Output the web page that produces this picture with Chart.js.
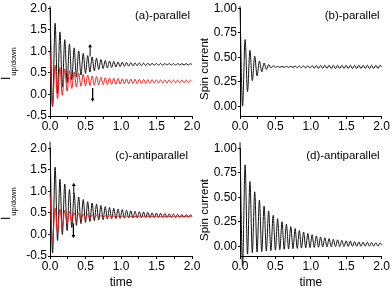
<!DOCTYPE html>
<html>
<head>
<meta charset="utf-8">
<script src="https://cdn.jsdelivr.net/npm/chart.js@4.4.1/dist/chart.umd.min.js"></script>
<style>
html, body { margin: 0; padding: 0; background: #fff; width: 390px; height: 290px; overflow: hidden; position: relative; }
canvas { position: absolute; }
</style>
</head>
<body>
<canvas id="pa" width="210" height="145" style="left:0;top:0"></canvas>
<canvas id="pb" width="195" height="145" style="left:195px;top:0"></canvas>
<canvas id="pc" width="210" height="150" style="left:0;top:140px"></canvas>
<canvas id="pd" width="195" height="150" style="left:195px;top:140px"></canvas>
<script>
// times of the successive maxima / minima
const tExt = [0.000, 0.036, 0.072, 0.106, 0.140, 0.174, 0.208, 0.241, 0.274, 0.307,
  0.340, 0.372, 0.404, 0.436, 0.468, 0.500, 0.531, 0.562, 0.593, 0.624,
  0.655, 0.686, 0.717, 0.748, 0.778, 0.808, 0.838, 0.868, 0.898, 0.928,
  0.958, 0.988, 1.018, 1.048, 1.078, 1.108, 1.138, 1.168, 1.198, 1.228,
  1.258, 1.288, 1.318, 1.348, 1.378, 1.408, 1.438, 1.468, 1.498, 1.528,
  1.558, 1.588, 1.618, 1.648, 1.678, 1.708, 1.738, 1.768, 1.798, 1.828,
  1.858, 1.888, 1.918, 1.948, 1.978, 2.000];

// (a) parallel, I_up (black) and I_down (red)
const aUp = [2.05, -0.28, 1.65, 0.02, 1.45, 0.17, 1.27, 0.27, 1.17, 0.34,
  1.08, 0.40, 1.01, 0.45, 0.95, 0.49, 0.90, 0.52, 0.87, 0.55,
  0.84, 0.58, 0.81, 0.60, 0.79, 0.615, 0.775, 0.628, 0.765, 0.638,
  0.755, 0.646, 0.747, 0.652, 0.741, 0.657, 0.736, 0.661, 0.732, 0.664,
  0.729, 0.667, 0.726, 0.670, 0.724, 0.672, 0.722, 0.674, 0.720, 0.676,
  0.719, 0.677, 0.718, 0.678, 0.717, 0.679, 0.716, 0.680, 0.716, 0.681,
  0.715, 0.682, 0.715, 0.683, 0.714, 0.690];
const aDown = [1.00, -0.25, 0.68, -0.10, 0.63, -0.02, 0.59, 0.08, 0.55, 0.14,
  0.52, 0.17, 0.49, 0.19, 0.47, 0.20, 0.45, 0.21, 0.43, 0.215,
  0.415, 0.22, 0.40, 0.225, 0.39, 0.23, 0.38, 0.235, 0.375, 0.24,
  0.37, 0.243, 0.365, 0.246, 0.36, 0.249, 0.356, 0.252, 0.352, 0.254,
  0.349, 0.256, 0.346, 0.258, 0.344, 0.26, 0.342, 0.262, 0.34, 0.263,
  0.338, 0.264, 0.337, 0.265, 0.336, 0.266, 0.335, 0.267, 0.334, 0.268,
  0.333, 0.269, 0.332, 0.27, 0.331, 0.30];

// (b) parallel, spin current
const bSpin = [1.02, 0.00, 0.68, 0.15, 0.57, 0.26, 0.51, 0.31, 0.46, 0.35,
  0.44, 0.375, 0.425, 0.39, 0.412, 0.396, 0.406, 0.397, 0.405, 0.397,
  0.406, 0.396, 0.407, 0.395, 0.409, 0.393, 0.41, 0.392, 0.411, 0.391,
  0.412, 0.39, 0.414, 0.388, 0.415, 0.387, 0.416, 0.386, 0.417, 0.385,
  0.418, 0.384, 0.418, 0.384, 0.418, 0.384, 0.418, 0.384, 0.418, 0.384,
  0.418, 0.384, 0.418, 0.384, 0.418, 0.384, 0.418, 0.384, 0.418, 0.384,
  0.418, 0.384, 0.418, 0.384, 0.418, 0.40];

// (c) antiparallel, I_up (black) and I_down (red)
const cUp = [2.15, -0.43, 1.56, -0.14, 1.28, 0.00, 1.17, 0.09, 1.04, 0.16,
  0.96, 0.21, 0.87, 0.25, 0.81, 0.28, 0.76, 0.30, 0.73, 0.32,
  0.70, 0.335, 0.67, 0.345, 0.645, 0.355, 0.625, 0.362, 0.605, 0.368,
  0.59, 0.373, 0.575, 0.377, 0.56, 0.381, 0.548, 0.384, 0.537, 0.387,
  0.527, 0.389, 0.518, 0.391, 0.51, 0.393, 0.502, 0.394, 0.495, 0.395,
  0.489, 0.396, 0.483, 0.397, 0.478, 0.398, 0.473, 0.399, 0.468, 0.40,
  0.464, 0.401, 0.46, 0.402, 0.456, 0.42];
const cDown = [0.95, -0.16, 0.61, 0.05, 0.59, 0.18, 0.56, 0.25, 0.53, 0.29,
  0.51, 0.32, 0.49, 0.34, 0.475, 0.355, 0.465, 0.365, 0.457, 0.372,
  0.45, 0.378, 0.445, 0.383, 0.44, 0.387, 0.436, 0.39, 0.433, 0.393,
  0.43, 0.395, 0.428, 0.397, 0.426, 0.399, 0.424, 0.40, 0.423, 0.401,
  0.422, 0.402, 0.421, 0.403, 0.42, 0.404, 0.419, 0.405, 0.418, 0.405,
  0.418, 0.405, 0.417, 0.406, 0.417, 0.406, 0.416, 0.406, 0.416, 0.407,
  0.415, 0.407, 0.415, 0.407, 0.415, 0.41];

// (d) antiparallel, spin current
const dSpin = [1.06, -0.20, 0.83, -0.08, 0.66, -0.065, 0.555, -0.06, 0.47, -0.055,
  0.41, -0.05, 0.36, -0.045, 0.315, -0.04, 0.28, -0.036, 0.25, -0.032,
  0.225, -0.028, 0.20, -0.025, 0.18, -0.022, 0.16, -0.019, 0.145, -0.016,
  0.13, -0.014, 0.117, -0.012, 0.105, -0.01, 0.095, -0.008, 0.086, -0.007,
  0.078, -0.006, 0.071, -0.005, 0.065, -0.004, 0.06, -0.003, 0.055, -0.002,
  0.051, -0.002, 0.047, -0.001, 0.044, -0.001, 0.041, 0.0, 0.039, 0.0,
  0.037, 0.0, 0.035, 0.0, 0.033, 0.01];

// little arrows: [time, from, to]
const arrowsA = [[0.565, 0.88, 1.12], [0.60, 0.15, -0.12]];
const arrowsC = [[0.335, 0.93, 1.15], [0.33, 0.25, -0.04]];

const xTicks = [0, 0.25, 0.5, 0.75, 1, 1.25, 1.5, 1.75, 2];
const yTicksI = [-0.5, 0, 0.5, 1, 1.5, 2];
const yTicksS = [0, 0.25, 0.5, 0.75, 1];

const FONT = '"Liberation Sans", Arial, Helvetica, sans-serif';
Chart.defaults.font.family = FONT;
Chart.defaults.font.size = 12;
Chart.defaults.color = '#000';

const pts = vals => tExt.map((t, i) => ({ x: t, y: vals[i] }));

const curve = (vals, color) => ({
  data: pts(vals),
  borderColor: color,
  borderWidth: 1,
  pointRadius: 0,
  cubicInterpolationMode: 'monotone',
  clip: false,
  fill: false
});

const arrow = ([x, y0, y1]) => ({
  data: [{ x, y: y0 }, { x, y: y1 }],
  borderColor: '#000',
  borderWidth: 1,
  pointRadius: [0, 2.2],
  pointStyle: 'triangle',
  pointRotation: y1 > y0 ? 0 : 180,
  pointBackgroundColor: '#000',
  pointBorderWidth: 0,
  clip: false
});

const decor = {
  id: 'decor',
  afterDraw(chart, args, o) {
    const { ctx, chartArea: a } = chart;
    ctx.save();
    ctx.fillStyle = '#000';
    ctx.font = '11.5px ' + FONT;
    ctx.textAlign = 'right';
    ctx.textBaseline = 'middle';
    ctx.fillText(o.label, a.right - o.labelDx, a.top + 7.5);
    ctx.translate(o.tx, o.ty);
    ctx.rotate(-Math.PI / 2);
    if (o.sub) {
      ctx.textAlign = 'left';
      ctx.textBaseline = 'alphabetic';
      ctx.font = '12px ' + FONT;
      ctx.fillText(o.main, 0, 0);
      const w = ctx.measureText(o.main).width;
      ctx.font = '7.5px ' + FONT;
      ctx.fillText(o.sub, w + 1, 6);
    } else {
      ctx.textAlign = 'center';
      ctx.textBaseline = 'middle';
      ctx.font = '11.5px ' + FONT;
      ctx.fillText(o.main, 0, 0);
    }
    ctx.restore();
  }
};

const makeChart = (id, datasets, cfg) => new Chart(id, {
  type: 'line',
  data: { datasets },
  options: {
    responsive: false,
    animation: false,
    devicePixelRatio: 1,
    layout: { padding: { top: 7, right: cfg.padRight, left: 0, bottom: 0 } },
    plugins: {
      legend: { display: false },
      tooltip: { enabled: false },
      decor: cfg.decor
    },
    scales: {
      x: {
        type: 'linear', min: 0, max: 2,
        afterBuildTicks: s => { s.ticks = xTicks.map(v => ({ value: v })); },
        afterFit: s => { s.height = cfg.xHeight; },
        ticks: { padding: 0, maxRotation: 0, autoSkip: false, callback: v => ((v * 2) % 1 === 0 ? v.toFixed(1) : '') },
        grid: { drawOnChartArea: false, tickLength: 3, color: '#000' },
        border: { color: '#000', width: 1 },
        title: cfg.time ? { display: true, text: 'time', padding: { top: 0, bottom: 0 }, font: { size: 12 } } : { display: false }
      },
      y: {
        type: 'linear', min: cfg.yMin, max: cfg.yMax,
        afterBuildTicks: s => { s.ticks = cfg.yTicks.map(v => ({ value: v })); },
        afterFit: s => { s.width = cfg.yWidth; },
        ticks: { padding: 1, callback: v => v.toFixed(cfg.digits) },
        grid: { drawOnChartArea: false, tickLength: 2, color: '#000' },
        border: { color: '#000', width: 1 }
      }
    }
  },
  plugins: [decor]
});

const RED = '#ee1c1c';
const BLACK = '#111';

makeChart('pa', [curve(aDown, RED), curve(aUp, BLACK), ...arrowsA.map(arrow)], {
  padRight: 18, xHeight: 29, yWidth: 50, yMin: -0.5, yMax: 2, yTicks: yTicksI, digits: 1, time: false,
  decor: { label: '(a)-parallel', labelDx: 2, main: 'I', sub: 'up/down', tx: 10, ty: 80 }
});
makeChart('pb', [curve(bSpin, BLACK)], {
  padRight: 8, xHeight: 29, yWidth: 45, yMin: -0.1, yMax: 1, yTicks: yTicksS, digits: 2, time: false,
  decor: { label: '(b)-parallel', labelDx: 2, main: 'Spin current', tx: 10, ty: 69 }
});
makeChart('pc', [curve(cDown, RED), curve(cUp, BLACK), ...arrowsC.map(arrow)], {
  padRight: 18, xHeight: 34, yWidth: 50, yMin: -0.5, yMax: 2, yTicks: yTicksI, digits: 1, time: true,
  decor: { label: '(c)-antiparallel', labelDx: 4, main: 'I', sub: 'up/down', tx: 10, ty: 80 }
});
makeChart('pd', [curve(dSpin, BLACK)], {
  padRight: 8, xHeight: 34, yWidth: 45, yMin: -0.1, yMax: 1, yTicks: yTicksS, digits: 2, time: true,
  decor: { label: '(d)-antiparallel', labelDx: 2, main: 'Spin current', tx: 10, ty: 70 }
});
</script>
</body>
</html>
